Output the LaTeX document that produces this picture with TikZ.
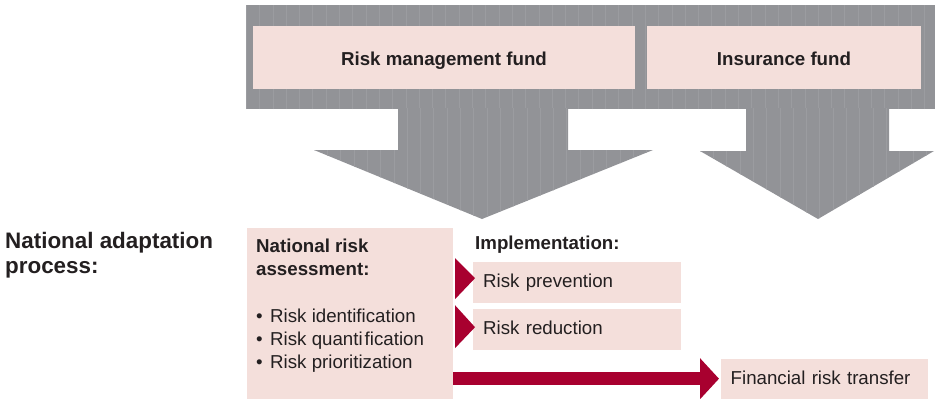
\documentclass[tikz,border=0pt]{standalone}
\usepackage{fontspec}
\setmainfont{Liberation Sans}
\usetikzlibrary{calc,arrows.meta}
\definecolor{bandgrey}{HTML}{929397}
\definecolor{stripegrey}{HTML}{9B9CA0}
\definecolor{boxpink}{HTML}{F4DFDB}
\definecolor{deepred}{HTML}{A8002F}
\definecolor{inkgrey}{HTML}{231F20}
\newcommand\diagfs{\fontsize{18.7pt}{23pt}\selectfont}
\newcommand\titlefs{\fontsize{22.4pt}{25pt}\selectfont}
\newcommand\bul{•\hspace{7.5pt}}
\begin{document}
\begin{tikzpicture}[x=1pt,y=-1pt,
  stripes/.style={path picture={
    \foreach \i in {0,...,55}{
      \draw[stripegrey, line width=0.6pt]
        ([xshift=\i*13.3pt]path picture bounding box.south west) --
        ([xshift=\i*13.3pt]path picture bounding box.north west);}}},
  greyshape/.style={fill=bandgrey, stripes},
  fundbox/.style={fill=boxpink, inner sep=0pt, text=inkgrey, font=\diagfs\bfseries,
    text height=15pt, text depth=0pt},
  actbox/.style={fill=boxpink, inner xsep=10pt, inner ysep=0pt, anchor=north west,
    text=inkgrey, font=\diagfs, text height=13.5pt, text depth=4.5pt, align=left},
  label/.style={anchor=base west, inner sep=0pt, text=inkgrey, font=\diagfs},
  redtri/.style={fill=deepred},
  bigarrow/.style={draw=deepred, line width=13pt, -{Triangle[length=19pt,width=40pt]}}
]
\useasboundingbox (0,0) rectangle (935,399);

% grey band and block arrows
\node[greyshape, anchor=north west, minimum width=689pt, minimum height=104pt, inner sep=0pt] (band) at (246,5) {};
\fill[greyshape] (398,108) -- (398,150) -- (314,150) -- (482,219) -- (653,150) -- (568,150) -- (568,108) -- cycle;
\fill[greyshape] (746,108) -- (746,151) -- (700,151) -- (818,219) -- (934,151) -- (889,151) -- (889,108) -- cycle;

% fund boxes
\node[fundbox, minimum width=382pt, minimum height=63pt] (rmf) at (444,57.5) {Risk management fund};
\node[fundbox, minimum width=274pt, minimum height=63pt] (ins) at (784,57.5) {Insurance fund};

% left title
\node[label, font=\titlefs\bfseries] (nap1) at (5,248) {National adaptation};
\node[label, font=\titlefs\bfseries] (nap2) at (5,273) {process:};

% national risk assessment
\node[fill=boxpink, anchor=north west, minimum width=206pt, minimum height=172pt, inner sep=0pt] (nra) at (247,228) {};
\node[label, font=\diagfs\bfseries] (nra1) at (256,252) {National risk};
\node[label, font=\diagfs\bfseries] (nra2) at (256,275) {assessment:};
\node[label] (b1) at (256,322) {\bul Risk identification};
\node[label] (b2) at (256,345) {\bul Risk quanti\hspace{2pt}fication};
\node[label] (b3) at (256,368) {\bul Risk prioritization};

% implementation
\node[label, font=\diagfs\bfseries] (impl) at (475,249) {Implementation:};
\node[actbox, minimum width=208pt, minimum height=41pt, text width=188pt] (prev) at (473,262) {Risk prevention};
\node[actbox, minimum width=208pt, minimum height=41pt, text width=188pt] (red) at (473,309) {Risk reduction};
\node[actbox, minimum width=207pt, minimum height=41pt, text width=188pt, inner xsep=9pt] (fin) at (721,359) {Financial risk transfer};

% red triangles
\fill[redtri] ($(prev.west)+(-18,-24.5)$) -- ($(prev.west)+(2,-4.5)$) -- ($(prev.west)+(-18,16.5)$) -- cycle;
\fill[redtri] ($(red.west)+(-18,-24.5)$) -- ($(red.west)+(2,-2.5)$) -- ($(red.west)+(-18,18.5)$) -- cycle;

% big red arrow
\draw[bigarrow] ($(nra.east |- fin.west)+(0,-1)$) -- ($(fin.west)+(-2,-1)$);
\end{tikzpicture}
\end{document}
